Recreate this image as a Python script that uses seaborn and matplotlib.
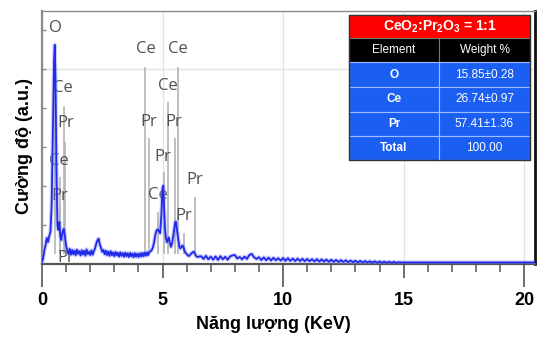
import numpy as np
import pandas as pd
import matplotlib
matplotlib.use("Agg")
import matplotlib.pyplot as plt
import seaborn as sns
from matplotlib.patches import Rectangle
from matplotlib.ticker import MultipleLocator

# ---------------- data ----------------
# low-energy part (explicit energies, keV)
low_energy = [0.00, 0.05, 0.10, 0.15, 0.20, 0.25, 0.30, 0.35, 0.40, 0.45, 0.50, 0.53,
              0.56, 0.60, 0.64, 0.68, 0.72, 0.76, 0.80, 0.85, 0.90, 0.95, 1.00]
low_counts = [10, 31, 72, 98, 134, 113, 144, 165, 303, 689, 1049, 1126,
              946, 483, 200, 175, 216, 144, 123, 165, 180, 144, 93]

# 1.05 - 4.55 keV, channel step 0.05
mid_start, mid_step = 1.05, 0.05
mid_counts = [70, 52, 78, 48, 72, 50, 69, 45, 74, 52, 66, 44, 71, 49, 68, 43, 75, 51, 63, 46,
              70, 48, 66, 80, 104, 122, 130, 100, 82, 62, 72, 50, 68, 46, 64, 42, 66, 45, 60, 40,
              62, 44, 58, 38, 60, 42, 56, 37, 58, 40, 55, 36, 57, 39, 54, 35, 56, 38, 53, 36,
              55, 38, 57, 40, 58, 42, 60, 45, 62, 64, 72]

# Ce / Pr L-line region (explicit energies)
peak_energy = [4.60, 4.65, 4.70, 4.75, 4.80, 4.85, 4.90, 4.95, 5.00, 5.03, 5.06, 5.10, 5.14,
               5.18, 5.22, 5.26, 5.30, 5.35, 5.40, 5.44, 5.48, 5.52, 5.55, 5.58, 5.62, 5.66,
               5.70, 5.74, 5.78, 5.82, 5.86, 5.90, 5.95, 6.00, 6.05, 6.10, 6.15, 6.20, 6.25,
               6.30, 6.35, 6.40, 6.45, 6.50]
peak_counts = [85, 110, 150, 172, 178, 168, 158, 250, 390, 402, 300, 185, 135,
               112, 125, 136, 110, 88, 110, 140, 175, 212, 218, 190, 155, 120,
               88, 80, 86, 95, 90, 72, 58, 52, 44, 41, 48, 55, 60,
               63, 50, 40, 36, 38]

# 6.6 - 14.8 keV, channel step 0.1
high_start, high_step = 6.6, 0.1
high_counts = [40, 26, 42, 24, 38, 22, 39, 21, 40, 24, 37, 22, 39, 44, 46, 28, 36, 24, 38, 26,
               46, 52, 34, 26, 35, 20, 34, 19, 33, 18, 32, 19, 30, 17, 31, 16, 30, 16, 28, 15,
               28, 15, 27, 14, 26, 14, 25, 13, 25, 12, 24, 12, 23, 11, 22, 11, 21, 10, 20, 10,
               19, 9, 18, 9, 17, 8, 16, 8, 15, 8, 14, 7, 14, 7, 13, 7, 12, 6, 12, 6,
               11, 6, 9]

tail_energy = [14.9, 20.45]
tail_counts = [8, 8]

# element line markers: energy, top of marker line, label, label position
marker_energy = [0.54, 0.90, 0.95, 0.74, 0.75, 4.29, 5.65, 4.43, 5.24, 5.50, 5.05, 4.82, 5.88, 6.33]
marker_top    = [1115, 812, 627, 447, 293, 1013, 1013, 648, 833, 648, 473, 267, 159, 344]
label_text    = ["O", "Ce", "Pr", "Ce", "Pr", "Ce", "Ce", "Pr", "Ce", "Pr", "Pr", "Ce", "Pr", "Pr", "Pr"]
label_x       = [0.55, 0.85, 0.97, 0.68, 0.73, 4.29, 5.65, 4.42, 5.23, 5.45, 5.02, 4.79, 5.87, 6.33, 0.97]
label_y       = [1213, 905, 725, 529, 350, 1105, 1105, 730, 915, 730, 550, 355, 247, 432, 31]

x_ticks = [0, 5, 10, 15, 20]
x_label = "Năng lượng (KeV)"
y_label = "Cường độ (a.u.)"

table_title = r"CeO$_\mathbf{2}$:Pr$_\mathbf{2}$O$_\mathbf{3}$ = 1:1"
table_columns = ["Element", "Weight %"]
table_elements = ["O", "Ce", "Pr", "Total"]
table_weights = ["15.85±0.28", "26.74±0.97", "57.41±1.36", "100.00"]

# ---------------- assemble spectrum ----------------
mid_energy = list(np.round(mid_start + mid_step * np.arange(len(mid_counts)), 3))
high_energy = list(np.round(high_start + high_step * np.arange(len(high_counts)), 3))
df = pd.DataFrame({
    "energy": low_energy + mid_energy + peak_energy + high_energy + tail_energy,
    "counts": low_counts + mid_counts + peak_counts + high_counts + tail_counts,
})

# ---------------- style ----------------
sns.set_theme(style="white")
plt.rcParams["font.family"] = ["Liberation Sans", "DejaVu Sans"]
plt.rcParams["mathtext.fontset"] = "custom"
plt.rcParams["mathtext.rm"] = "Liberation Sans"
plt.rcParams["mathtext.bf"] = "Liberation Sans:bold"

W, H = 538, 338
fig = plt.figure(figsize=(W / 100, H / 100), dpi=100)
ax = fig.add_axes([42 / W, 1 - 264 / H, 493 / W, 253 / H])

# grid lines
ax.set_xticks(x_ticks)
ax.grid(axis="x", color="#e2e2e2", lw=1.0, zorder=0)
ax.axhline(1000, color="#e2e2e2", lw=1.0, zorder=0)

# element marker lines + labels
ax.vlines(marker_energy, 50, marker_top, color="#b4b4b4", lw=1.2, zorder=1)
for t, lx, ly in zip(label_text, label_x, label_y):
    ax.text(lx, ly, t, ha="center", va="center", color="#505050", fontsize=12,
            family=["Open Sans", "DejaVu Sans"], zorder=2, clip_on=True)

# spectrum
sns.lineplot(data=df, x="energy", y="counts", ax=ax, color="#9090ff", lw=3.0, alpha=0.45,
             sort=False, estimator=None, zorder=3)
sns.lineplot(data=df, x="energy", y="counts", ax=ax, color="#1f2be6", lw=1.3,
             sort=False, estimator=None, zorder=4)

ax.set_xlim(0, 20.45)
ax.set_ylim(0, 1300)

# spines
for s in ["left", "top"]:
    ax.spines[s].set_color("#8a8a8a")
ax.spines["left"].set_linewidth(1.6)
ax.spines["top"].set_linewidth(1.0)
ax.spines["right"].set_color("#111111")
ax.spines["right"].set_linewidth(2.0)
ax.spines["bottom"].set_color("#555555")
ax.spines["bottom"].set_linewidth(1.6)

# ticks
ax.xaxis.set_minor_locator(MultipleLocator(1))
ax.tick_params(axis="x", which="major", direction="out", length=10, width=1.2, color="#555555",
               pad=10, labelsize=13, bottom=True)
ax.tick_params(axis="x", which="minor", direction="out", length=5.8, width=1.1, color="#555555",
               bottom=True)
for lab in ax.get_xticklabels():
    lab.set_fontweight("bold")
    lab.set_color("black")
for tick, v in zip(ax.xaxis.get_major_ticks(), x_ticks):
    if v in (0, 10, 20):
        tick.tick1line.set_markersize(16.5)

ax.set_yticks([200, 400, 600, 800, 1000, 1200])
ax.set_yticklabels([])
ax.tick_params(axis="y", which="major", direction="in", length=3, width=1.0, color="#8a8a8a", left=True)

ax.set_xlabel(x_label, fontsize=13, fontweight="bold", color="black")
ax.set_ylabel(y_label, fontsize=13, fontweight="bold", color="black")
ax.xaxis.set_label_coords(0.469, -0.206)
ax.yaxis.set_label_coords(-0.018, 0.466)

# ---------------- table ----------------
def fx(x):
    return x / W

def fy(y):
    return 1 - y / H

x0, xm, x1 = 349, 439, 530
rows_y = [15, 38, 62, 87, 112, 136, 160]
blue = "#1a5ef2"

def cell(xa, ya, xb, yb, color, edge):
    fig.add_artist(Rectangle((fx(xa), fy(yb)), fx(xb) - fx(xa), fy(ya) - fy(yb),
                             transform=fig.transFigure, facecolor=color, edgecolor=edge, lw=0.8,
                             zorder=10))

cell(x0, rows_y[0], x1, rows_y[1], "#ff0000", "#ff0000")
fig.text(fx((x0 + x1) / 2), fy((rows_y[0] + rows_y[1]) / 2), table_title, ha="center", va="center",
         color="white", fontsize=10, fontweight="bold", zorder=11)
cell(x0, rows_y[1], xm, rows_y[2], "black", "#777777")
cell(xm, rows_y[1], x1, rows_y[2], "black", "#777777")
fig.text(fx((x0 + xm) / 2), fy((rows_y[1] + rows_y[2]) / 2), table_columns[0], ha="center", va="center",
         color="white", fontsize=8.5, zorder=11)
fig.text(fx((xm + x1) / 2), fy((rows_y[1] + rows_y[2]) / 2), table_columns[1], ha="center", va="center",
         color="white", fontsize=8.5, zorder=11)
for i, (el, wt) in enumerate(zip(table_elements, table_weights)):
    ya, yb = rows_y[2 + i], rows_y[3 + i]
    cell(x0, ya, xm, yb, blue, "#9fbcff")
    cell(xm, ya, x1, yb, blue, "#9fbcff")
    yc = fy((ya + yb) / 2)
    fig.text(fx((x0 + xm) / 2), yc, el, ha="center", va="center", color="white", fontsize=8.5,
             fontweight="bold", zorder=11)
    fig.text(fx((xm + x1) / 2), yc, wt, ha="center", va="center", color="white", fontsize=8.5, zorder=11)
fig.add_artist(Rectangle((fx(x0), fy(rows_y[-1])), fx(x1) - fx(x0), fy(rows_y[0]) - fy(rows_y[-1]),
                         transform=fig.transFigure, facecolor="none", edgecolor="#333333", lw=1.0,
                         zorder=12))

fig.savefig("out.png", dpi=100)
